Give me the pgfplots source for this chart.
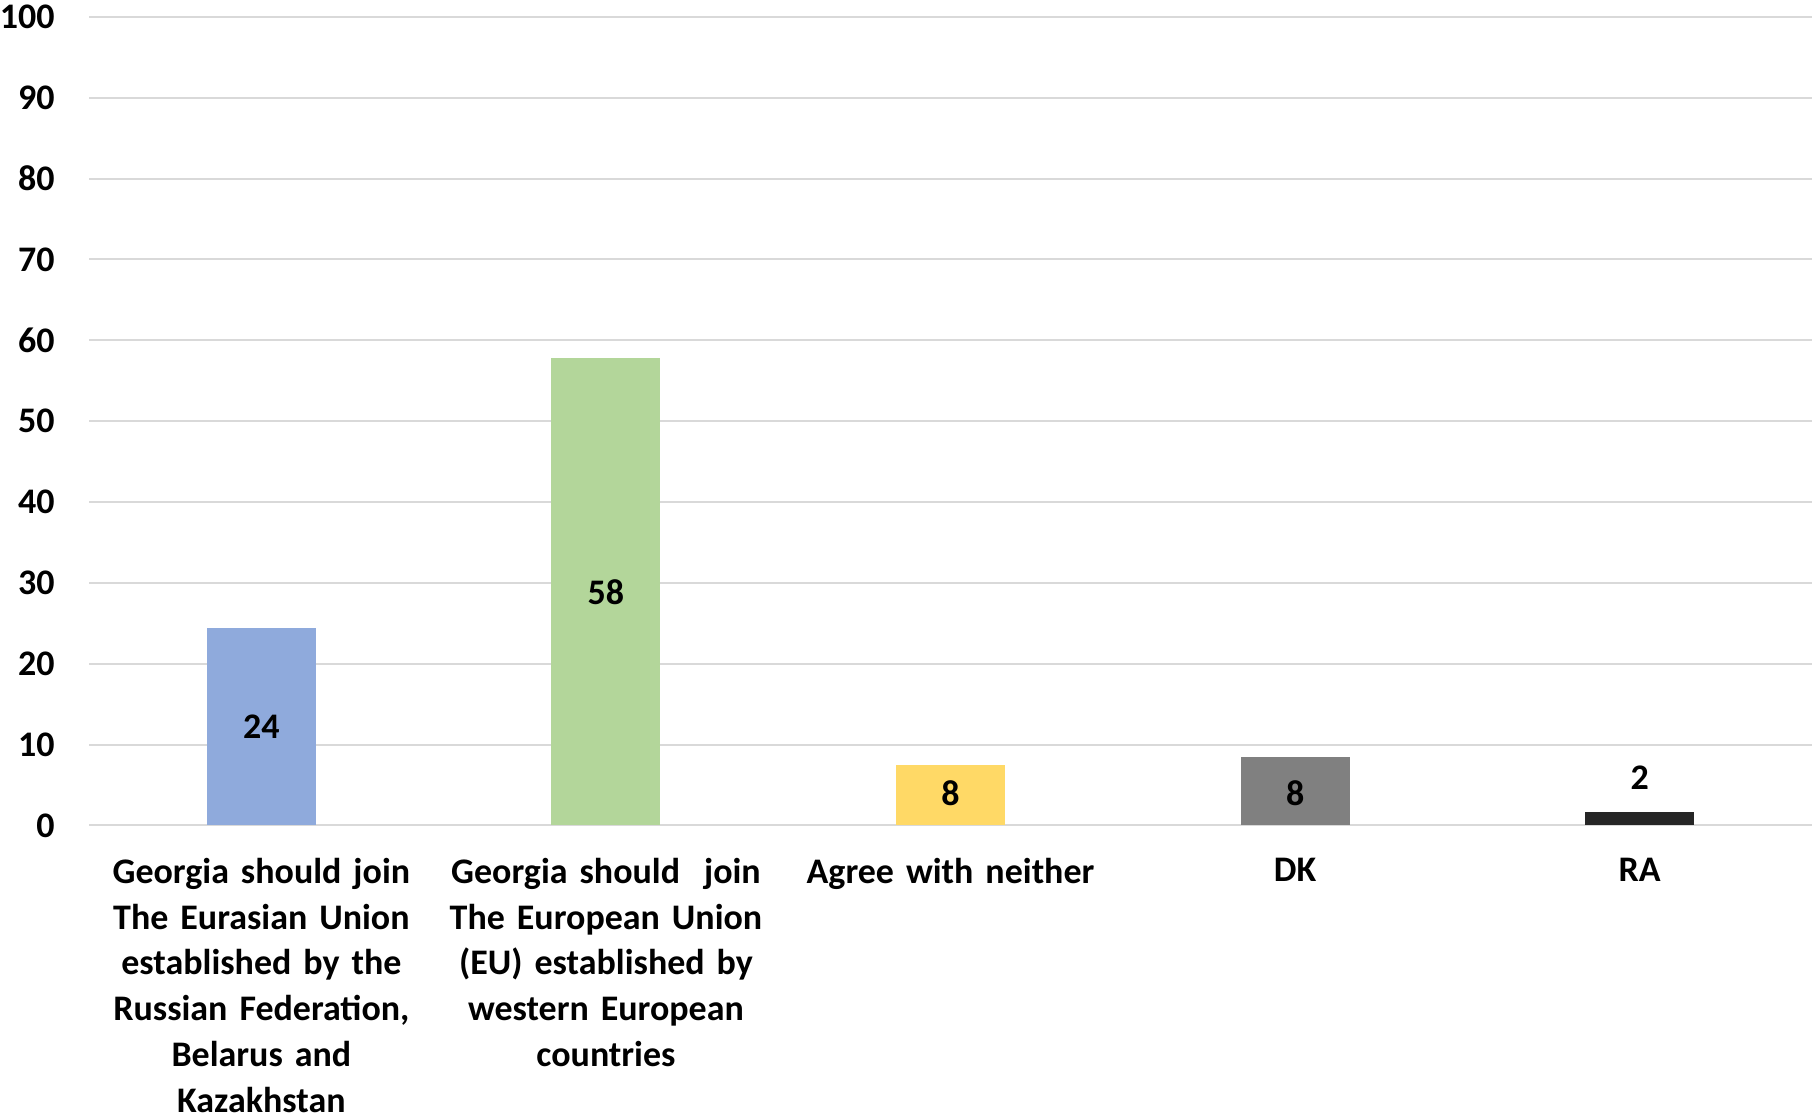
\documentclass[border=0pt]{standalone}
\usepackage{fontspec}
\setmainfont{Carlito}
\usepackage{pgfplots}
\pgfplotsset{compat=1.18}
\definecolor{cblue}{HTML}{8FAADC}
\definecolor{cgreen}{HTML}{B3D69A}
\definecolor{cyellow}{HTML}{FFD966}
\definecolor{cgray}{HTML}{808080}
\definecolor{cdark}{HTML}{262626}
\definecolor{cgrid}{HTML}{D9D9D9}
\begin{document}
\begin{tikzpicture}
\begin{axis}[
  scale only axis, width=862pt, height=404.5pt,
  xmin=-0.5, xmax=4.5, ymin=0, ymax=100,
  ytick={0,10,...,100},
  xtick={0,1,2,3,4},
  xticklabels={
    {Georgia should join\\The Eurasian Union\\established by the\\Russian Federation,\\Belarus and\\Kazakhstan},
    {Georgia should\ \ join\\The European Union\\(EU) established by\\western European\\countries},
    {Agree with neither},
    {DK},
    {RA}},
  axis line style={draw=none},
  major tick length=0pt,
  ymajorgrids, grid style={draw=cgrid, line width=1pt},
  /pgf/number format/assume math mode=true,
  xticklabel style={text width=160pt, align=center, anchor=north, inner xsep=0pt, inner ysep=2pt, yshift=-14pt,
    font=\fontsize{18}{23}\selectfont\bfseries},
  yticklabel style={anchor=east, inner xsep=0pt, inner ysep=2.5pt, xshift=-17pt, font=\fontsize{18}{22}\selectfont\bfseries},
]
\addplot[ybar, bar width=54.5pt, bar shift=0pt, fill=cblue, draw=none] coordinates {(0,24.4)};
\addplot[ybar, bar width=54.5pt, bar shift=0pt, fill=cgreen, draw=none] coordinates {(1,57.8)};
\addplot[ybar, bar width=54.5pt, bar shift=0pt, fill=cyellow, draw=none] coordinates {(2,7.45)};
\addplot[ybar, bar width=54.5pt, bar shift=0pt, fill=cgray, draw=none] coordinates {(3,8.45)};
\addplot[ybar, bar width=54.5pt, bar shift=0pt, fill=cdark, draw=none] coordinates {(4,1.6)};
\addplot[draw=none, nodes near coords, point meta=explicit symbolic,
  nodes near coords style={anchor=center, inner sep=0pt, font=\fontsize{18}{22}\selectfont\bfseries, text=black}]
  table[meta=lab] {
x y lab
0 12.2 24
1 28.9 58
2 4.0 8
3 4.0 8
4 5.85 2
};
\end{axis}
\end{tikzpicture}
\end{document}
